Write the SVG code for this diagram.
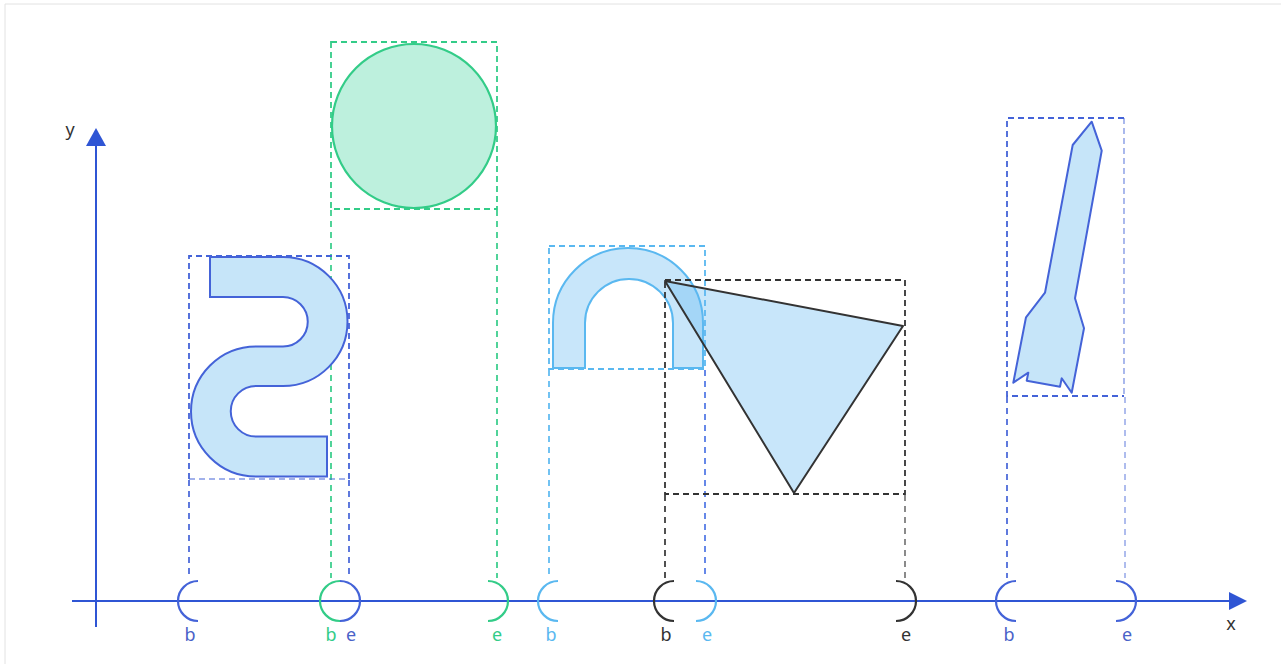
<svg xmlns="http://www.w3.org/2000/svg" width="1281" height="664" viewBox="0 0 1281 664">
<style>
text{font-family:"Noto Sans","Liberation Sans",sans-serif;font-size:18px;text-anchor:middle}
.box{fill:none;stroke-width:1.8;stroke-dasharray:6 4}
.proj{fill:none;stroke-width:1.7;stroke-dasharray:6 5}
.brk{fill:none;stroke-width:2.2}
.blue{stroke:#4463d8}.green{stroke:#33cc88}.lblue{stroke:#5ab8f0}.dark{stroke:#333}
.tblue{fill:#4a62c8}.tgreen{fill:#33cc88}.tlblue{fill:#5ab8f0}.tdark{fill:#333}
</style>
<rect width="1281" height="664" fill="#fff"/>
<path d="M5,664 V4 H1281" fill="none" stroke="#e2e2e2" stroke-width="1"/>

<g id="axes">
<line x1="72" y1="601" x2="1231" y2="601" stroke="#2f55d4" stroke-width="2"/>
<polygon points="1229,592 1247,601 1229,610" fill="#2f55d4"/>
<line x1="96" y1="627" x2="96" y2="146" stroke="#2f55d4" stroke-width="2"/>
<polygon points="86,146 96,128 106,146" fill="#2f55d4"/>
<text x="70" y="136" class="tdark">y</text>
<text x="1231" y="630" class="tdark">x</text>
</g>

<g id="connectors">
<line class="proj blue" x1="189" y1="480" x2="189" y2="578"/>
<line class="proj blue" x1="349" y1="480" x2="349" y2="578"/>
<line class="proj green" x1="331" y1="210" x2="331" y2="578"/>
<line class="proj green" x1="497" y1="210" x2="497" y2="578"/>
<line class="proj lblue" x1="549" y1="370" x2="549" y2="578"/>
<line class="proj" stroke="#4c74e4" x1="705" y1="370" x2="705" y2="578"/>
<line class="proj dark" x1="665" y1="495" x2="665" y2="578"/>
<line class="proj" stroke="#777" x1="905" y1="495" x2="905" y2="578"/>
<line class="proj blue" x1="1007" y1="397" x2="1007" y2="578"/>
<line class="proj blue" stroke-opacity="0.5" x1="1125" y1="397" x2="1125" y2="578"/>
</g>

<g id="markers">
<path class="brk blue" d="M198,581 A20,20 0 0 0 198,621"/>
<path class="brk blue" d="M340,581 A20,20 0 0 1 340,621"/>
<path class="brk green" d="M340,581 A20,20 0 0 0 340,621"/>
<path class="brk green" d="M488,581 A20,20 0 0 1 488,621"/>
<path class="brk lblue" d="M558,581 A20,20 0 0 0 558,621"/>
<path class="brk dark" d="M674,581 A20,20 0 0 0 674,621"/>
<path class="brk lblue" d="M696,581 A20,20 0 0 1 696,621"/>
<path class="brk dark" d="M896,581 A20,20 0 0 1 896,621"/>
<path class="brk blue" d="M1016,581 A20,20 0 0 0 1016,621"/>
<path class="brk blue" d="M1116,581 A20,20 0 0 1 1116,621"/>
<text x="190" y="641" class="tblue">b</text>
<text x="331" y="641" class="tgreen">b</text>
<text x="351" y="641" class="tblue">e</text>
<text x="497" y="641" class="tgreen">e</text>
<text x="551" y="641" class="tlblue">b</text>
<text x="666" y="641" class="tdark">b</text>
<text x="707" y="641" class="tlblue">e</text>
<text x="906" y="641" class="tdark">e</text>
<text x="1009" y="641" class="tblue">b</text>
<text x="1127" y="641" class="tblue">e</text>
</g>

<g id="s-shape">
<path d="M210,257 H283 A64.5,64.5 0 0 1 283,386 H256 A25,25 0 0 0 256,436.5 H327 V476.5 H256 A65,65 0 0 1 256,346.5 H283 A24.5,24.5 0 0 0 283,297 H210 Z" fill="#c6e5f9" stroke="#4463d8" stroke-width="2"/>
<path class="box blue" d="M189,479 V256 H349 V479"/>
<line class="box blue" stroke-opacity="0.5" x1="189" y1="479" x2="349" y2="479"/>
</g>

<g id="circle">
<circle cx="414" cy="126" r="82" fill="#bdf0dd" stroke="#33cc88" stroke-width="2.2"/>
<rect class="box green" x="331" y="42" width="166" height="167"/>
</g>

<g id="arch">
<path d="M553,368 V323 A75,75 0 0 1 703,323 V368 H673 V323 A44,44 0 0 0 585,323 V368 Z" fill="#62b8f0" fill-opacity="0.35" stroke="#5ab8f0" stroke-width="2"/>
<rect class="box lblue" x="549" y="246" width="156" height="123"/>
</g>

<g id="triangle">
<polygon points="665,281 903,326 794,493" fill="#62b8f0" fill-opacity="0.35" stroke="#333" stroke-width="2" stroke-linejoin="round"/>
<rect class="box dark" x="665" y="280" width="240" height="214"/>
</g>

<g id="rocket">
<polygon points="1091.7,121.7 1101.7,150.7 1075,298.3 1084,328.3 1071.7,392.7 1061.7,378.3 1060,386.7 1026.7,380.7 1028.3,372.7 1013.3,382.7 1026,317.3 1045,292.7 1072.7,145" fill="#c6e5f9" stroke="#4463d8" stroke-width="2" stroke-linejoin="round"/>
<path class="box blue" d="M1124,118 H1007 V396 H1124"/>
<line class="box blue" stroke-opacity="0.5" x1="1124" y1="118" x2="1124" y2="396"/>
</g>
</svg>
